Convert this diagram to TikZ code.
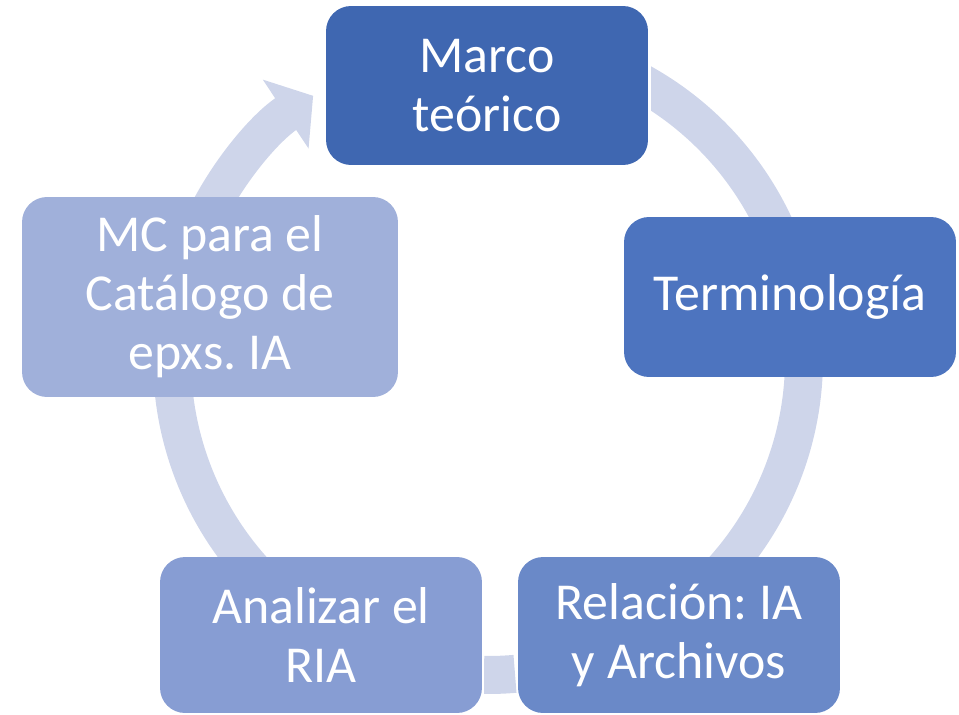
\documentclass[tikz,border=0pt]{standalone}
\usepackage{fontspec}
\setmainfont{Carlito}
\usetikzlibrary{arrows.meta}
\frenchspacing

\definecolor{marco}{RGB}{63,103,177}
\definecolor{termin}{RGB}{77,116,191}
\definecolor{relac}{RGB}{106,137,200}
\definecolor{analiz}{RGB}{135,157,211}
\definecolor{catal}{RGB}{160,176,218}
\definecolor{anillo}{RGB}{206,213,234}

\begin{document}
\begin{tikzpicture}[x=0.02cm, y=0.02cm,
    caja/.style={rounded corners=0.5cm, text=white, align=center, inner sep=0pt,
        minimum width=6.44cm, minimum height=3.2cm,
        font=\fontsize{29.5}{33.5}\selectfont},
    banda/.style={line width=0.76cm, draw=anillo}]
    % параметры
    \def\R{316}     % радиус кольца

    \useasboundingbox (0,0) rectangle (959,714);
    \clip (0,0) rectangle (959,714);
    \coordinate (ctr) at (488,355);

    % кольцо
    \begin{scope}
        \clip (651,0) rectangle (959,714);
        \draw[banda] ([shift={(62:\R)}]ctr) arc[start angle=62, end angle=20, radius=\R];
    \end{scope}
    \draw[banda] ([shift={(0:\R)}]ctr) arc[start angle=0, end angle=-45, radius=\R];
    \draw[banda] ([shift={(-85.1:\R)}]ctr) arc[start angle=-85.1, end angle=-90.7, radius=\R];
    \draw[banda] ([shift={(228:\R)}]ctr) arc[start angle=228, end angle=183, radius=\R];
    \draw[banda, -{Triangle[length=0.66cm, width=1.62cm]}]
        ([shift={(155:\R)}]ctr) arc[start angle=155, end angle=123.6, radius=\R];

    % блоки
    \node[caja, fill=marco, minimum height=3.18cm] (marco) at (487,628.5) {Marco\\teórico};
    \node[caja, fill=termin, minimum width=6.64cm] (termin) at (790,417) {Terminología};
    \node[caja, fill=relac, minimum height=3.12cm] (relac) at (679,79) {Relación: IA\\y Archivos};
    \node[caja, fill=analiz, minimum height=3.12cm] (analiz) at (321,79) {Analizar el\\RIA};
    \node[caja, fill=catal, minimum width=7.52cm, minimum height=4cm] (catal) at (210,417)
        {MC para el\\Catálogo de\\epxs. IA};
\end{tikzpicture}
\end{document}
